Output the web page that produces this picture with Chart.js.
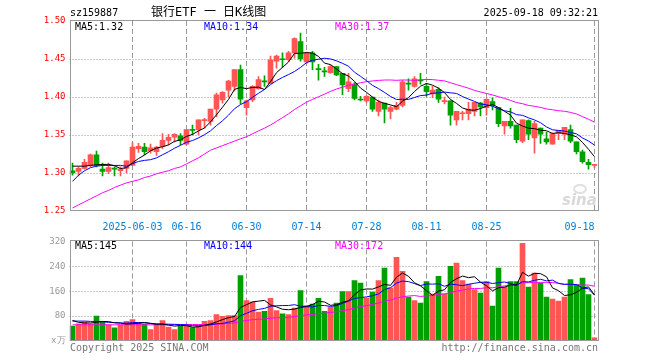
<!DOCTYPE html>
<html>
<head>
<meta charset="utf-8">
<script src="https://cdn.jsdelivr.net/npm/chart.js@4.4.1/dist/chart.umd.min.js"></script>
<style>
html, body { margin: 0; padding: 0; background: #fff; }
#wrap { position: relative; width: 660px; height: 360px; overflow: hidden; }
#kline { position: absolute; left: 0; top: 0; }
#vol { position: absolute; left: 0; top: 232px; }
</style>
</head>
<body>
<div id="wrap">
  <canvas id="kline" width="660" height="232" style="width:660px;height:232px"></canvas>
  <canvas id="vol" width="660" height="128" style="width:660px;height:128px"></canvas>
</div>
<script>
// trading days shown (sz159887, daily)
const dates = [
  '2025-05-19','2025-05-20','2025-05-21','2025-05-22','2025-05-23','2025-05-26','2025-05-27','2025-05-28','2025-05-29','2025-05-30',
  '2025-06-03','2025-06-04','2025-06-05','2025-06-06','2025-06-09','2025-06-10','2025-06-11','2025-06-12','2025-06-13','2025-06-16',
  '2025-06-17','2025-06-18','2025-06-19','2025-06-20','2025-06-23','2025-06-24','2025-06-25','2025-06-26','2025-06-27','2025-06-30',
  '2025-07-01','2025-07-02','2025-07-03','2025-07-04','2025-07-07','2025-07-08','2025-07-09','2025-07-10','2025-07-11','2025-07-14',
  '2025-07-15','2025-07-16','2025-07-17','2025-07-18','2025-07-21','2025-07-22','2025-07-23','2025-07-24','2025-07-25','2025-07-28',
  '2025-07-29','2025-07-30','2025-07-31','2025-08-01','2025-08-04','2025-08-05','2025-08-06','2025-08-07','2025-08-08','2025-08-11',
  '2025-08-12','2025-08-13','2025-08-14','2025-08-15','2025-08-18','2025-08-19','2025-08-20','2025-08-21','2025-08-22','2025-08-25',
  '2025-08-26','2025-08-27','2025-08-28','2025-08-29','2025-09-01','2025-09-02','2025-09-03','2025-09-04','2025-09-05','2025-09-08',
  '2025-09-09','2025-09-10','2025-09-11','2025-09-12','2025-09-15','2025-09-16','2025-09-17','2025-09-18'
];

const opens = [
  1.303,1.302,1.306,1.310,1.324,1.305,1.302,1.306,1.303,1.306,
  1.310,1.332,1.334,1.329,1.328,1.335,1.343,1.347,1.349,1.338,
  1.357,1.357,1.369,1.368,1.384,1.396,1.409,1.414,1.436,1.386,
  1.396,1.411,1.421,1.418,1.447,1.450,1.449,1.458,1.473,1.446,
  1.458,1.437,1.434,1.432,1.440,1.431,1.411,1.417,1.397,1.395,
  1.400,1.381,1.392,1.381,1.384,1.389,1.418,1.414,1.422,1.414,
  1.404,1.410,1.394,1.395,1.370,1.378,1.378,1.381,1.392,1.386,
  1.394,1.386,1.362,1.368,1.363,1.342,1.369,1.346,1.359,1.345,
  1.338,1.352,1.351,1.357,1.341,1.328,1.314,1.310
];
const highs = [
  1.313,1.308,1.318,1.325,1.329,1.313,1.313,1.308,1.308,1.316,
  1.340,1.339,1.339,1.338,1.335,1.352,1.351,1.352,1.352,1.357,
  1.363,1.370,1.372,1.384,1.405,1.407,1.422,1.436,1.442,1.396,
  1.415,1.427,1.428,1.454,1.455,1.458,1.460,1.478,1.484,1.459,
  1.460,1.443,1.439,1.442,1.440,1.431,1.431,1.419,1.401,1.402,
  1.400,1.396,1.392,1.388,1.393,1.422,1.424,1.427,1.431,1.418,
  1.414,1.412,1.400,1.395,1.381,1.381,1.393,1.393,1.393,1.398,
  1.399,1.386,1.368,1.385,1.363,1.370,1.370,1.368,1.359,1.354,
  1.353,1.356,1.360,1.363,1.341,1.330,1.318,1.311
];
const lows = [
  1.297,1.296,1.305,1.308,1.308,1.296,1.299,1.296,1.296,1.300,
  1.310,1.327,1.324,1.326,1.323,1.332,1.337,1.341,1.337,1.337,
  1.350,1.350,1.359,1.363,1.374,1.392,1.400,1.408,1.391,1.376,
  1.394,1.410,1.414,1.418,1.438,1.439,1.447,1.451,1.447,1.444,
  1.436,1.422,1.427,1.431,1.428,1.403,1.407,1.396,1.395,1.393,
  1.381,1.375,1.366,1.371,1.383,1.387,1.409,1.413,1.417,1.401,
  1.399,1.393,1.391,1.363,1.363,1.370,1.370,1.375,1.375,1.376,
  1.383,1.361,1.351,1.359,1.340,1.340,1.344,1.326,1.339,1.338,
  1.338,1.344,1.344,1.340,1.325,1.313,1.305,1.307
];
const closes = [
  1.300,1.306,1.314,1.324,1.310,1.302,1.307,1.305,1.305,1.316,
  1.334,1.335,1.328,1.333,1.334,1.343,1.347,1.351,1.343,1.357,
  1.356,1.370,1.370,1.384,1.403,1.406,1.421,1.436,1.397,1.395,
  1.414,1.423,1.420,1.449,1.454,1.449,1.458,1.477,1.450,1.458,
  1.446,1.436,1.433,1.440,1.429,1.416,1.420,1.398,1.396,1.401,
  1.384,1.393,1.384,1.386,1.389,1.420,1.417,1.424,1.421,1.407,
  1.409,1.397,1.395,1.376,1.381,1.379,1.384,1.393,1.387,1.397,
  1.389,1.365,1.368,1.362,1.344,1.370,1.351,1.365,1.351,1.341,
  1.352,1.356,1.360,1.342,1.328,1.315,1.311,1.311
];

// volume, 万手
const volumes = [
  48,55,61,55,80,63,52,42,52,63,
  69,58,54,37,54,66,45,37,48,50,
  43,50,63,66,85,79,82,82,210,130,
  125,93,95,137,98,87,85,106,162,114,
  119,137,95,109,122,159,159,194,186,138,
  157,194,234,171,269,224,141,130,122,191,
  151,208,151,240,250,194,183,165,154,191,
  112,234,173,191,191,314,173,218,186,141,
  135,128,141,197,181,202,149,10
];

// moving-average values before a full window exists
const ma5Head = [1.309, 1.309, 1.309, 1.310];
const ma10Head = [1.289, 1.297, 1.303, 1.307, 1.309, 1.310, 1.310, 1.310, 1.310];
const ma30Head = [
  1.254,1.258,1.262,1.266,1.270,1.274,1.277,1.281,1.284,1.287,
  1.289,1.291,1.294,1.296,1.299,1.301,1.303,1.306,1.308,1.312,
  1.316,1.320,1.325,1.330,1.333,1.336,1.339,1.342,1.345
];
const volMa5Head = [66, 60, 58, 58];
const volMa10Head = [64, 64, 64, 63, 63, 62, 60, 59, 58];
const volMa30Head = [
  52,52,52,52,52,52,52,52,52,52,
  52,52,52,52,52,52,52,52,53,53,
  53,53,53,54,54,55,56,58,63
];

const tickDates = ['2025-06-03','2025-06-16','2025-06-30','2025-07-14','2025-07-28','2025-08-11','2025-08-25','2025-09-18'];
const tickTexts = ['2025-06-03','06-16','06-30','07-14','07-28','08-11','08-25','09-18     '];

const priceRange = [1.25, 1.50];
const priceGrid = [1.30, 1.35, 1.40, 1.45];
const volRange = [0, 320];
const volGrid = [80, 160, 240];

const priceLegend = ['MA5:1.32', 'MA10:1.34', 'MA30:1.37'];
const volLegend = ['MA5:145', 'MA10:144', 'MA30:172'];

const MONO = '"DejaVu Sans Mono", "Liberation Mono", monospace';
const RED = '#ff5555';
const GREEN = '#00a000';
const GRID = '#999999';
const MA_COLORS = ['#000000', '#0000ff', '#ff00ff'];

function movingAvg(vals, n, head) {
  return vals.map((v, i) => {
    if (i < n - 1) return head[i];
    let s = 0;
    for (let k = i - n + 1; k <= i; k++) s += vals[k];
    return s / n;
  });
}

const candleColors = closes.map((c, i) => c >= opens[i] ? RED : GREEN);
const tickIdx = tickDates.map(d => dates.indexOf(d));

function maLine(data, color) {
  return {
    type: 'line', data: data, borderColor: color, borderWidth: 1,
    pointRadius: 0, tension: 0, fill: false, order: 0
  };
}

// dashed date lines and dotted value lines, placed through the chart's scales
function drawGrid(chart, values) {
  const { ctx, chartArea: a, scales } = chart;
  ctx.save();
  ctx.strokeStyle = GRID;
  ctx.lineWidth = 1;
  ctx.setLineDash([5, 3]);
  for (const i of tickIdx) {
    const x = Math.floor(scales.x.getPixelForValue(i)) + 0.5;
    ctx.beginPath();
    ctx.moveTo(x, a.top);
    ctx.lineTo(x, a.bottom);
    ctx.stroke();
  }
  ctx.setLineDash([1, 2]);
  for (const v of values) {
    const y = Math.round(scales.y.getPixelForValue(v)) + 0.5;
    ctx.beginPath();
    ctx.moveTo(a.left, y);
    ctx.lineTo(a.right, y);
    ctx.stroke();
  }
  ctx.restore();
}

function frameAndGrid(values) {
  return {
    id: 'frameAndGrid',
    beforeDatasetsDraw(chart) {
      drawGrid(chart, values);
    },
    afterDraw(chart) {
      const { ctx, chartArea: a } = chart;
      ctx.save();
      ctx.strokeStyle = '#999';
      ctx.lineWidth = 1;
      ctx.strokeRect(Math.round(a.left) + 0.5, Math.round(a.top) - 0.5,
        Math.round(a.right - a.left), Math.round(a.bottom - a.top));
      ctx.restore();
    }
  };
}

function drawLegend(ctx, texts, y) {
  const xs = [75, 204, 335];
  ctx.font = '10px ' + MONO;
  ctx.textBaseline = 'middle';
  ctx.textAlign = 'left';
  texts.forEach((t, i) => {
    ctx.fillStyle = MA_COLORS[i];
    ctx.fillText(t, xs[i], y);
  });
}

const topText = {
  id: 'topText',
  afterDraw(chart) {
    const ctx = chart.ctx;
    ctx.save();
    ctx.fillStyle = '#000';
    ctx.textBaseline = 'middle';
    ctx.font = '10px ' + MONO;
    ctx.fillText('sz159887', 70, 13);
    ctx.textAlign = 'right';
    ctx.fillText('2025-09-18 09:32:21', 598, 13);
    ctx.textAlign = 'left';
    ctx.font = '12px "DejaVu Sans Mono", "Noto Sans CJK SC"';
    ctx.fillText('银行ETF 一 日K线图', 151, 13);
    drawLegend(ctx, priceLegend, 27);
    // watermark
    ctx.fillStyle = '#d9d9d9';
    ctx.font = 'italic bold 15px "DejaVu Sans"';
    ctx.fillText('sina', 562, 201);
    ctx.beginPath();
    ctx.ellipse(580, 189, 6, 4, 0, 0, Math.PI * 2);
    ctx.lineWidth = 2;
    ctx.strokeStyle = '#e0e0e0';
    ctx.stroke();
    ctx.restore();
  }
};

const volText = {
  id: 'volText',
  afterDraw(chart) {
    const ctx = chart.ctx;
    ctx.save();
    drawLegend(ctx, volLegend, 14);
    ctx.fillStyle = '#777';
    ctx.font = '10px ' + MONO;
    ctx.textBaseline = 'middle';
    ctx.textAlign = 'left';
    ctx.fillText('Copyright 2025 SINA.COM', 70, 116);
    ctx.textAlign = 'right';
    ctx.fillText('http://finance.sina.com.cn', 598, 116);
    ctx.restore();
  }
};

new Chart(document.getElementById('kline'), {
  type: 'bar',
  data: {
    labels: dates,
    datasets: [
      maLine(movingAvg(closes, 5, ma5Head), MA_COLORS[0]),
      maLine(movingAvg(closes, 10, ma10Head), MA_COLORS[1]),
      maLine(movingAvg(closes, 30, ma30Head), MA_COLORS[2]),
      {
        data: dates.map((d, i) => [lows[i], highs[i]]),
        backgroundColor: candleColors, barThickness: 1, grouped: false, order: 2
      },
      {
        data: dates.map((d, i) => [Math.min(opens[i], closes[i]), Math.max(opens[i], closes[i])]),
        backgroundColor: candleColors, barThickness: 5, grouped: false, minBarLength: 1, order: 1
      }
    ]
  },
  options: {
    responsive: false,
    animation: false,
    events: [],
    layout: { padding: { top: 21, right: 62.5, left: 0, bottom: 0 } },
    plugins: { legend: { display: false }, tooltip: { enabled: false } },
    scales: {
      x: {
        offset: true,
        grid: { display: false, drawTicks: false },
        border: { display: false },
        ticks: {
          autoSkip: false, maxRotation: 0, minRotation: 0, padding: 10,
          color: '#0080d8', font: { family: MONO, size: 10 },
          callback: (v, i) => {
            const k = tickIdx.indexOf(i);
            return k < 0 ? '' : tickTexts[k];
          }
        },
        afterFit: s => { s.height = 21; }
      },
      y: {
        min: priceRange[0],
        max: priceRange[1],
        ticks: {
          stepSize: 0.05, padding: 4, color: '#ff0000',
          font: { family: MONO, size: 9 },
          callback: v => v.toFixed(2)
        },
        grid: { display: false, drawTicks: false },
        border: { display: false },
        afterFit: s => { s.width = 69.5; }
      }
    }
  },
  plugins: [frameAndGrid(priceGrid), topText]
});

new Chart(document.getElementById('vol'), {
  type: 'bar',
  data: {
    labels: dates,
    datasets: [
      maLine(movingAvg(volumes, 5, volMa5Head), MA_COLORS[0]),
      maLine(movingAvg(volumes, 10, volMa10Head), MA_COLORS[1]),
      maLine(movingAvg(volumes, 30, volMa30Head), MA_COLORS[2]),
      { data: volumes, backgroundColor: candleColors, barThickness: 5, order: 1 }
    ]
  },
  options: {
    responsive: false,
    animation: false,
    events: [],
    layout: { padding: { top: 9, right: 62.5, left: 0, bottom: 19 } },
    plugins: { legend: { display: false }, tooltip: { enabled: false } },
    scales: {
      x: {
        offset: true,
        grid: { display: false, drawTicks: false },
        border: { display: false },
        ticks: { display: false },
        afterFit: s => { s.height = 0; }
      },
      y: {
        min: volRange[0],
        max: volRange[1],
        ticks: {
          stepSize: 80, padding: 4, color: '#999',
          font: { family: MONO, size: 9 },
          callback: v => v === 0 ? 'x万' : String(v)
        },
        grid: { display: false, drawTicks: false },
        border: { display: false },
        afterFit: s => { s.width = 69.5; }
      }
    }
  },
  plugins: [frameAndGrid(volGrid), volText]
});
</script>
</body>
</html>
